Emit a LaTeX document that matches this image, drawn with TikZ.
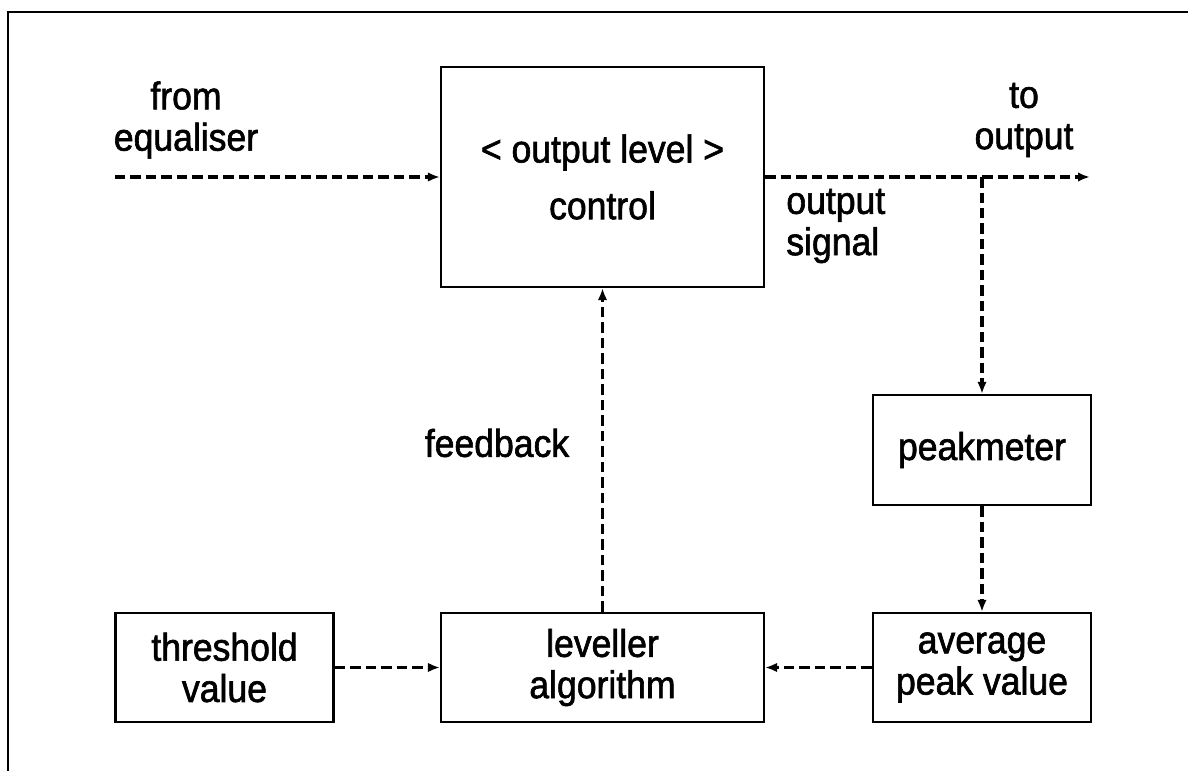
\documentclass[tikz,border=0pt]{standalone}
\usepackage{fontspec}
\setmainfont[FakeStretch=0.92, FakeBold=1.6]{Liberation Sans}
\usetikzlibrary{positioning, arrows.meta}

\begin{document}
\begin{tikzpicture}[
    x=0.02cm, y=-0.02cm,
    every node/.style={font=\fontsize{22}{23.5}\selectfont, align=center},
    block/.style={draw, line width=1.3pt, inner sep=0pt},
    wide/.style={block, minimum width=6.46cm},
    small/.style={block, minimum width=4.36cm},
    flow/.style={-{Latex[length=0.24cm, width=0.19cm]}, line width=2pt, dash pattern=on 0.21cm off 0.1cm},
  ]
  \useasboundingbox (0,0) rectangle (1188,771);
  \draw[line width=1.7pt] (1188,12) -- (8,12) -- (8,771);

  % blocks
  \node[wide, minimum height=4.4cm] (ctrl) at (602.5,177) {< output level >\\[8.8pt] control};
  \node[small, minimum height=2.2cm] (peak) at (982,450) {peakmeter};
  \node[small, minimum height=2.18cm] (avg) at (982,667.5) {average\\ peak value};
  \node[wide, minimum height=2.18cm] (lev) at (602.5,667.5) {leveller\\ algorithm};
  \node[small, minimum height=2.18cm] (thr) at (224.5,667.5) {threshold\\ value};

  % free texts
  \node (src) at (186,120) {from\\ equaliser};
  \node (dst) at (1024,120) {to\\ output};
  \node[anchor=west, align=left, inner sep=0pt] (sig) at (786,226) {output\\ signal};
  \node (fb) at (497,443) {feedback};

  \coordinate (in) at (115,177);
  \coordinate (out) at (1090,177);
  \coordinate (tap) at (peak.north |- ctrl.east);

  \draw[flow] (in) -- (ctrl.west);
  \draw[flow] (ctrl.east) -- (out);
  \draw[flow] (tap) -- (peak.north);
  \draw[flow] (peak.south) -- (avg.north);
  \draw[flow] (avg.west) -- (lev.east);
  \draw[flow] (thr.east) -- (lev.west);
  \draw[flow] (lev.north) -- (ctrl.south);
\end{tikzpicture}
\end{document}
